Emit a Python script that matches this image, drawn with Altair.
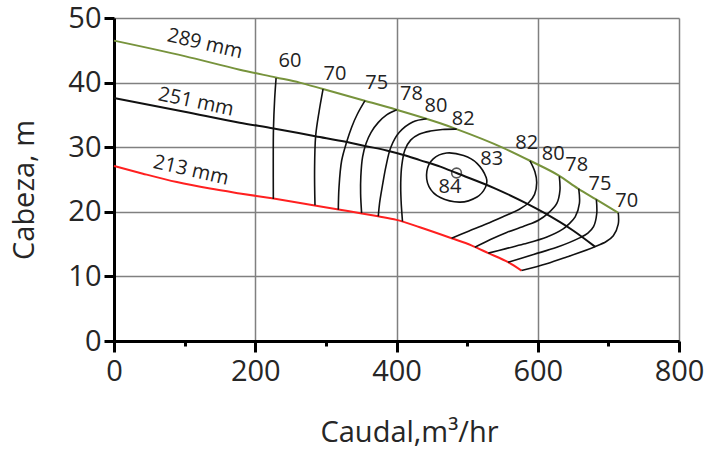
import altair as alt
import pandas as pd

# ---------------- data ----------------
# impeller curves (Q in m3/hr, H in m)
Q_289 = [0, 100, 178, 229, 263, 296, 355, 400, 462, 485, 551, 589, 630, 657, 682, 714]
H_289 = [46.5, 44.1, 42.0, 40.8, 40.0, 39.0, 37.2, 35.8, 33.7, 32.8, 29.9, 27.9, 25.6, 23.6, 21.95, 19.85]

Q_251 = [0, 100, 178, 226, 285, 330, 355, 386, 410, 433, 462, 485, 540, 584, 608, 650, 681]
H_251 = [37.6, 35.5, 33.8, 32.9, 31.7, 30.8, 30.2, 29.5, 28.8, 28.0, 27.0, 26.0, 23.6, 21.3, 19.9, 17.1, 14.6]

Q_213 = [0, 41, 89, 136, 178, 226, 278, 318, 351, 374, 400, 433, 478, 506, 530, 558, 577]
H_213 = [27.1, 25.9, 24.6, 23.6, 22.85, 22.05, 21.1, 20.35, 19.75, 19.3, 18.75, 17.6, 15.9, 14.8, 13.6, 12.2, 10.9]

DIAMETERS = ["289 mm", "251 mm", "213 mm"]

# efficiency contours (%), each traced from top to bottom
E60_Q = [229.5, 227.5, 225.8, 225.5, 225.6]
E60_H = [40.7, 37.5, 32.9, 27.5, 22.0]
E70_Q = [296, 290.5, 285.5, 284, 284.6]
E70_H = [39.0, 35.6, 31.7, 26.3, 21.0]
E75_Q = [355.4, 344.5, 336.5, 329.4, 322.3, 318.6, 317.6]
E75_H = [37.2, 35.1, 33.1, 30.8, 27.9, 23.8, 20.3]
E78_Q = [400.3, 386, 374, 364, 357, 352, 349.5, 349.2, 350.6]
E78_H = [35.8, 35.0, 33.8, 32.3, 30.6, 28.5, 25.5, 22.8, 19.8]
E80L_Q = [442.6, 423, 404, 392, 385, 380, 376, 374.2]
E80L_H = [34.4, 33.9, 32.3, 30.0, 27.0, 24.0, 21.3, 19.3]
E82L_Q = [485.2, 465, 448, 432, 420, 412, 407.5, 406, 406.5, 408.5]
E82L_H = [32.8, 32.75, 32.5, 32.0, 31.1, 29.6, 27.2, 24.5, 21.7, 18.5]
E82R_Q = [589, 596, 598.5, 595.5, 587, 574, 550, 527, 502, 478]
E82R_H = [27.9, 26.2, 24.5, 22.7, 21.4, 20.4, 19.2, 18.1, 17.0, 15.9]
E80R_Q = [630.5, 631.4, 627, 615, 601, 584, 556, 533, 511]
E80R_H = [25.5, 23.3, 21.3, 19.8, 18.7, 17.9, 16.8, 15.7, 14.5]
E78R_Q = [658, 659, 653, 644, 636, 613, 580, 555, 530]
E78R_H = [23.6, 21.3, 19.2, 18.1, 17.35, 16.1, 15.0, 14.3, 13.6]
E75R_Q = [683, 683.5, 679, 671, 660, 627, 594, 558]
E75R_H = [21.9, 19.7, 17.7, 16.7, 16.0, 14.5, 13.4, 12.2]
E70R_Q = [714, 714, 707, 697, 681, 641, 612.6, 577]
E70R_H = [19.85, 18.1, 16.3, 15.4, 14.6, 13.0, 11.95, 10.9]

# closed 83 % island
E83_Q = [443, 452, 471, 495, 514, 527, 526, 514, 490, 462, 446]
E83_H = [26.3, 28.2, 29.1, 28.7, 27.5, 25.3, 23.8, 22.3, 21.5, 22.2, 23.9]

# best efficiency point
BEP_Q = [485]
BEP_H = [26.0]

# efficiency labels
EFF_TEXT = ["60", "70", "75", "78", "80", "82", "82", "83", "84", "80", "78", "75", "70"]
EFF_Q = [249.2, 312.9, 371.9, 421.2, 455.9, 494.6, 584.3, 534.8, 475.7, 622.0, 655.1, 688.1, 725.9]
EFF_H = [43.4, 41.3, 40.0, 38.3, 36.4, 34.4, 30.6, 28.2, 23.8, 29.0, 27.3, 24.3, 21.7]

# diameter labels
DIA_Q = [128.8, 116.1, 109.0]
DIA_H = [46.0, 37.0, 26.4]
DIA_ANGLE = [13, 12, 13]

X_TICKS = [0, 100, 200, 300, 400, 500, 600, 700, 800]
Y_TICKS = [0, 10, 20, 30, 40, 50]

# ---------------- styling ----------------
FONT = "Open Sans"
GREEN = "#77933C"
RED = "#FF2020"
BLACK = "#111111"
GRID = "#808080"

curve_rows = []
for name, qs, hs in zip(DIAMETERS, [Q_289, Q_251, Q_213], [H_289, H_251, H_213]):
    for i, (q, h) in enumerate(zip(qs, hs)):
        curve_rows.append({"name": name, "q": q, "h": h, "i": i})
curves_df = pd.DataFrame(curve_rows)

contours = [
    ("60", E60_Q, E60_H), ("70", E70_Q, E70_H), ("75", E75_Q, E75_H),
    ("78", E78_Q, E78_H), ("80L", E80L_Q, E80L_H), ("82L", E82L_Q, E82L_H),
    ("82R", E82R_Q, E82R_H), ("80R", E80R_Q, E80R_H), ("78R", E78R_Q, E78R_H),
    ("75R", E75R_Q, E75R_H), ("70R", E70R_Q, E70R_H),
]
cont_rows = []
for name, qs, hs in contours:
    for i, (q, h) in enumerate(zip(qs, hs)):
        cont_rows.append({"name": name, "q": q, "h": h, "i": i})
cont_df = pd.DataFrame(cont_rows)

island_df = pd.DataFrame({"q": E83_Q, "h": E83_H, "i": list(range(len(E83_Q)))})
bep_df = pd.DataFrame({"q": BEP_Q, "h": BEP_H})
eff_df = pd.DataFrame({"t": EFF_TEXT, "q": EFF_Q, "h": EFF_H})

major = "datum.value % 200 === 0"
x_axis = alt.Axis(
    values=X_TICKS, title="Caudal,m³/hr", grid=True, gridColor=GRID, gridWidth=1.5,
    gridOpacity={"condition": {"test": major, "value": 1}, "value": 0},
    tickSize={"condition": {"test": major, "value": 11}, "value": 5},
    tickWidth=3, tickColor="black", domainColor="black", domainWidth=3,
    labelExpr=f"{major} ? datum.label : ''", labelFont=FONT, labelFontSize=29,
    labelColor="#262626", labelPadding=5, labelFlush=False, labelOverlap=False,
    titleFont=FONT, titleFontSize=29, titleFontWeight="normal", titleColor="#262626",
    titleX=295, titleY=100, titleAlign="center", titleBaseline="alphabetic",
)
y_axis = alt.Axis(
    values=Y_TICKS, title="Cabeza, m", grid=True, gridColor=GRID, gridWidth=1.5,
    tickSize=10, tickWidth=3, tickColor="black", domainColor="black", domainWidth=3,
    labelFont=FONT, labelFontSize=29, labelColor="#262626", labelPadding=3,
    labelFlush=False, labelOverlap=False,
    titleFont=FONT, titleFontSize=29, titleFontWeight="normal", titleColor="#262626",
    titleX=-81, titleY=171.5, titleAngle=270, titleAlign="center", titleBaseline="alphabetic",
)

X = alt.X("q:Q", scale=alt.Scale(domain=[0, 800], nice=False), axis=x_axis)
Y = alt.Y("h:Q", scale=alt.Scale(domain=[0, 50], nice=False), axis=y_axis)

curves = alt.Chart(curves_df).mark_line(interpolate="monotone", strokeWidth=2).encode(
    x=X, y=Y,
    color=alt.Color("name:N", scale=alt.Scale(domain=DIAMETERS, range=[GREEN, BLACK, RED]), legend=None),
    order=alt.Order("i:Q"),
)

cont = alt.Chart(cont_df).mark_line(interpolate="catmull-rom", strokeWidth=1.6, color=BLACK).encode(
    x=X, y=Y, detail="name:N", order=alt.Order("i:Q"),
)

island = alt.Chart(island_df).mark_line(interpolate="cardinal-closed", strokeWidth=1.6, color=BLACK).encode(
    x=X, y=Y, order=alt.Order("i:Q"),
)

bep = alt.Chart(bep_df).mark_point(shape="circle", filled=False, size=95, strokeWidth=1.6, color=BLACK).encode(
    x=X, y=Y,
)

eff_text = alt.Chart(eff_df).mark_text(font=FONT, fontSize=20, color="#222222", align="center", baseline="middle").encode(
    x=X, y=Y, text="t:N",
)

layers = [curves, cont, island, bep, eff_text]
for label, q, h, ang in zip(DIAMETERS, DIA_Q, DIA_H, DIA_ANGLE):
    d = pd.DataFrame({"t": [label], "q": [q], "h": [h]})
    layers.append(
        alt.Chart(d).mark_text(font=FONT, fontSize=20, color="#222222", align="center",
                               baseline="middle", angle=ang).encode(x=X, y=Y, text="t:N")
    )

chart = alt.layer(*layers).properties(
    width=565, height=323,
    autosize=alt.AutoSizeParams(type="none"),
    padding={"left": 114, "top": 18, "right": 27, "bottom": 109},
).configure_view(stroke=None)

chart.save("out.html", embed_options={"renderer": "svg", "actions": False})
